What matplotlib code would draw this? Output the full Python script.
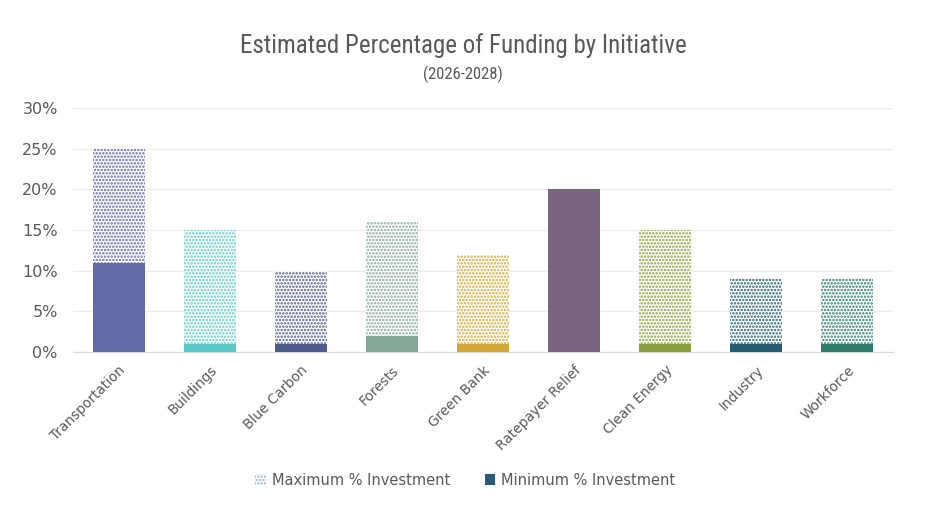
import matplotlib.pyplot as plt
import matplotlib.font_manager as fm
from matplotlib.patches import Patch
import matplotlib.ticker as mticker

# dados do grafico
iniciativas = ['Transportation', 'Buildings', 'Blue Carbon', 'Forests', 'Green Bank',
               'Ratepayer Relief', 'Clean Energy', 'Industry', 'Workforce']
maximo = [25, 15, 10, 16, 12, 20, 15, 9, 9]
minimo = [11, 1, 1, 2, 1, 20, 1, 1, 1]
cores = ['#6469a8', '#5cc8c8', '#4f5b8a', '#86a89a', '#d4a836',
         '#7a6580', '#8aa040', '#245d70', '#2e7a6c']

# procura uma fonte estreita para o titulo
disponiveis = set(f.name for f in fm.fontManager.ttflist)
fonte_titulo, tam_titulo, tam_sub = 'DejaVu Sans', 14, 10
for nome in ['Liberation Sans Narrow', 'Roboto Condensed', 'DejaVu Sans Condensed',
             'Open Sans Condensed']:
    if nome in disponiveis:
        fonte_titulo, tam_titulo, tam_sub = nome, 18, 12
        break

plt.rcParams['hatch.linewidth'] = 1.2
texto_cor = '#595959'

fig = plt.figure(figsize=(9.36, 5.08), dpi=100)
ax = fig.add_axes([0.078, 0.307, 0.876, 0.48])

x = range(len(iniciativas))
for i in x:
    # barra do maximo com pontinhos
    ax.bar(i, maximo[i], width=0.57, facecolor='white', edgecolor=cores[i],
           hatch='.....', linewidth=0, zorder=2)
    # barra do minimo solida por cima
    ax.bar(i, minimo[i], width=0.57, color=cores[i], linewidth=0, zorder=3)

ax.set_xlim(-0.5, len(iniciativas) - 0.5)
ax.set_ylim(0, 30)
ax.yaxis.set_major_locator(mticker.MultipleLocator(5))
ax.yaxis.set_major_formatter(mticker.FuncFormatter(lambda v, p: f'{int(v)}%'))
ax.grid(axis='y', color='#ececec', linewidth=1, zorder=0)
for lado in ['top', 'right', 'left']:
    ax.spines[lado].set_visible(False)
ax.spines['bottom'].set_color('#d9d9d9')
ax.tick_params(axis='both', length=0, labelcolor=texto_cor)
ax.tick_params(axis='y', pad=11, labelsize=11.5)
ax.tick_params(axis='x', pad=8, labelsize=9.8)
ax.set_xticks(list(x))
ax.set_xticklabels(iniciativas, rotation=45, ha='right', rotation_mode='anchor')

fig.text(0.495, 0.91, 'Estimated Percentage of Funding by Initiative', ha='center',
         va='center', fontsize=tam_titulo, color=texto_cor, family=fonte_titulo)
fig.text(0.495, 0.854, '(2026-2028)', ha='center', va='center', fontsize=tam_sub,
         color=texto_cor, family=fonte_titulo)

handles = [Patch(facecolor='white', edgecolor='#8fb3cc', hatch='.....', linewidth=0,
                 label='Maximum % Investment'),
           Patch(facecolor='#2a5a7a', label='Minimum % Investment')]
fig.legend(handles=handles, loc='center', bbox_to_anchor=(0.497, 0.055), ncol=2,
           frameon=False, fontsize=10.5, labelcolor=texto_cor, handlelength=0.7,
           handleheight=0.7, handletextpad=0.4, columnspacing=2.4)

fig.savefig('out.png', dpi=100, facecolor='white')
